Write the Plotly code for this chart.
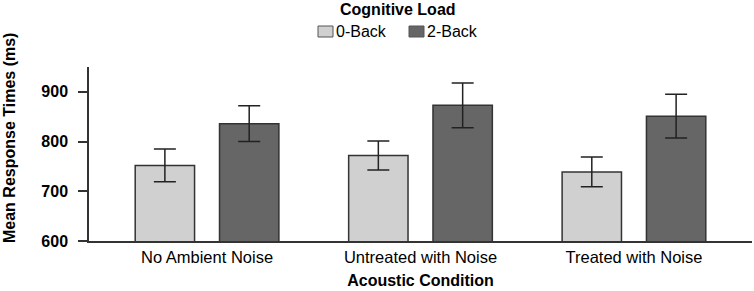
import plotly.graph_objects as go

# ---- data ----
categories = ["No Ambient Noise", "Untreated with Noise", "Treated with Noise"]
series_names = ["0-Back", "2-Back"]
back0_means = [752, 772, 739]
back0_err = [33, 29, 30]
back2_means = [836, 873, 851]
back2_err = [36, 45, 44]
y_ticks = [600, 700, 800, 900]
colors = ["#d0d0d0", "#666666"]

W, H = 754, 291
ML, MR, MT, MB = 89, 2, 67, 50
PW, PH = W - ML - MR, H - MT - MB
FONT = "Liberation Sans, Arial, sans-serif"


def px(xpix):
    return (xpix - ML) / PW


def py(ypix):
    return (H - MB - ypix) / PH


fig = go.Figure()
for name, means, errs, col in zip(series_names, [back0_means, back2_means],
                                  [back0_err, back2_err], colors):
    fig.add_trace(go.Bar(
        x=categories, y=means, name=name, showlegend=False,
        marker=dict(color=col, line=dict(color="#333333", width=1.5)),
        error_y=dict(type="data", array=errs, visible=True,
                     color="#222222", thickness=1.5, width=11),
    ))

fig.update_layout(
    width=W, height=H,
    margin=dict(l=ML, r=MR, t=MT, b=MB, pad=0),
    plot_bgcolor="white", paper_bgcolor="white",
    barmode="group", bargap=0.21, bargroupgap=0.296,
    font=dict(family=FONT, color="black", size=16),
    xaxis=dict(range=[-0.553, 2.553], showline=True, linecolor="#333333",
               linewidth=1.5, ticks="", showgrid=False, zeroline=False,
               tickfont=dict(size=16.5, family=FONT),
               title=dict(text="Acoustic Condition",
                          font=dict(size=16, family=FONT, weight="bold"),
                          standoff=10)),
    yaxis=dict(range=[600, 950], tickvals=y_ticks, showline=True,
               linecolor="#333333", linewidth=1.5, ticks="outside",
               ticklen=9, tickwidth=1.5, tickcolor="#333333",
               showgrid=False, zeroline=False, ticklabelstandoff=7,
               tickfont=dict(size=16, family=FONT, weight="bold")),
)

# y-axis title placed as annotation
fig.add_annotation(text="Mean Response Times (ms)", textangle=-90,
                   xref="paper", yref="paper", x=px(9), y=py(138),
                   showarrow=False, xanchor="center", yanchor="middle",
                   font=dict(size=16, family=FONT, weight="bold"))

# legend (title + swatches)
fig.add_annotation(text="Cognitive Load", xref="paper", yref="paper",
                   x=px(398), y=py(9), showarrow=False,
                   xanchor="center", yanchor="middle",
                   font=dict(size=16, family=FONT, weight="bold"))
swatch_left = [318, 409]
for name, col, sx in zip(series_names, colors, swatch_left):
    fig.add_shape(type="rect", xref="paper", yref="paper",
                  x0=px(sx), x1=px(sx + 15), y0=py(37), y1=py(26),
                  fillcolor=col, line=dict(color="#555555", width=1))
    fig.add_annotation(text=name, xref="paper", yref="paper",
                       x=px(sx + 16), y=py(31), showarrow=False,
                       xanchor="left", yanchor="middle",
                       font=dict(size=16, family=FONT))

fig.write_html("out.html",
               config={"displayModeBar": False},
               post_script="document.body.style.margin='0';"
                           "document.body.style.overflow='hidden';")
